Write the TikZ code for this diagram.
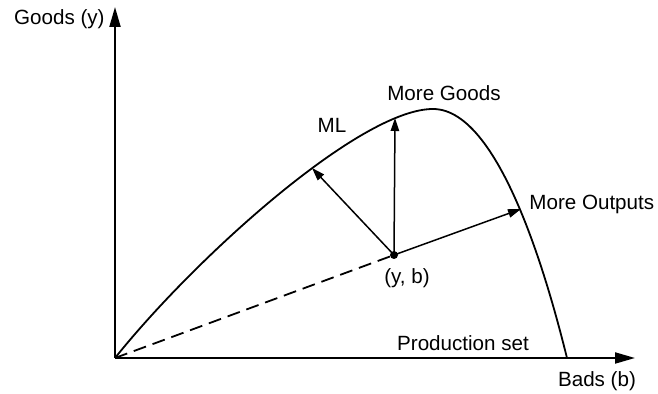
\documentclass[tikz,border=0pt]{standalone}
\usepackage{fontspec}
\setmainfont{Liberation Sans}
\usetikzlibrary{
	arrows.meta,
	calc,
	positioning
}

\begin{document}
\begin{tikzpicture}[x=0.5pt, y=-0.5pt, font=\fontsize{10.3}{12}\selectfont,
	every node/.style={inner sep=0pt},
	axis/.style={line width=1pt, -{Triangle[length=10pt, width=5.5pt]}},
	ray/.style={line width=0.75pt, -{Triangle[length=6.5pt, width=4.2pt]}}]
	\useasboundingbox (0,0) rectangle (658,394);
	\coordinate (O) at (115,358);
	\coordinate (Ytop) at (115,7);
	\coordinate (Xend) at (635,358);
	\coordinate (Top) at (433,109);
	\coordinate (Q) at (567,358);
	\coordinate (P) at (394,255);
	\coordinate (ML) at (312,168);
	\coordinate (G) at (395,118);
	\coordinate (Out) at (521,209);
	% axes
	\draw[axis] (O) -- (Ytop);
	\draw[axis] (O) -- (Xend);
	% frontier of the production set
	\draw[line width=0.9pt] (O) .. controls (195,258) and (360,109) .. (Top)
		.. controls (503,109) and (552,298) .. (Q);
	\draw[line width=0.9pt, dash pattern=on 6.5pt off 3.5pt] (O) -- (P);
	\draw[ray] (P) -- (ML);
	\draw[ray] (P) -- (G);
	\draw[ray] (P) -- (Out);
	\fill (P) circle (2pt);
	% labels
	\node[anchor=east] (ylab) at (105,19) {Goods (y)};
	\node (xlab) at (597,381) {Bads (b)};
	\node (mg) at (444,93) {More Goods};
	\node (ml) at (332,125) {ML};
	\node[anchor=west] (mo) at (529,204) {More Outputs};
	\node (yb) at (407,278) {(y, b)};
	\node (ps) at (463,343) {Production set};
\end{tikzpicture}
\end{document}
